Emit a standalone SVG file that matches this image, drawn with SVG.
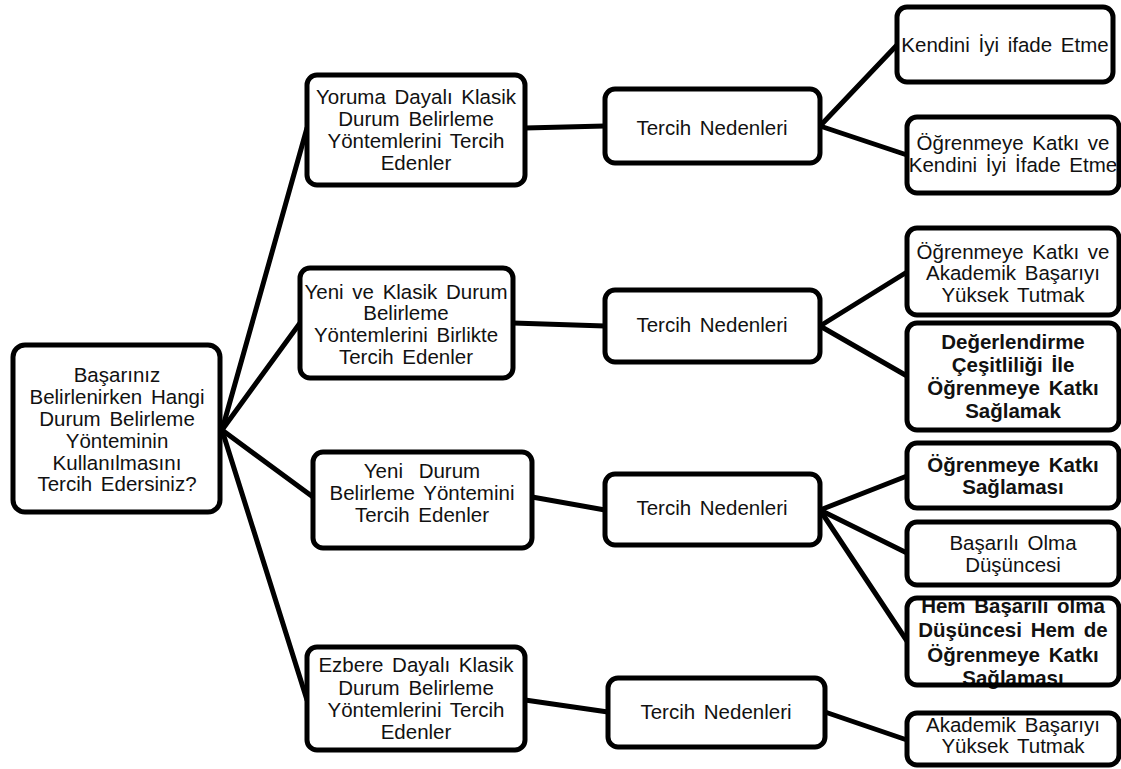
<svg xmlns="http://www.w3.org/2000/svg" width="1121" height="769" viewBox="0 0 1121 769">
<style>
.box{fill:#fff;stroke:#000;stroke-width:5}
.out{fill:none;stroke:#000;stroke-width:5}
.t{font-family:"Liberation Sans",Arial,sans-serif;font-size:20.5px;fill:#111;text-anchor:middle;word-spacing:3px}
.b{font-weight:bold}
.c{stroke:#000;stroke-width:5;fill:none;stroke-linecap:round}
</style>
<rect width="1121" height="769" fill="#fff"/>
<g id="connectors">
<line class="c" x1="222" y1="430" x2="307" y2="128"/>
<line class="c" x1="222" y1="430" x2="300" y2="323"/>
<line class="c" x1="222" y1="430" x2="313" y2="497"/>
<line class="c" x1="222" y1="430" x2="307" y2="700"/>
<line class="c" x1="525" y1="128" x2="605" y2="126"/>
<line class="c" x1="513" y1="323" x2="605" y2="326"/>
<line class="c" x1="532" y1="497" x2="605" y2="510"/>
<line class="c" x1="525" y1="700" x2="608" y2="712"/>
<line class="c" x1="820" y1="126" x2="897" y2="45"/>
<line class="c" x1="820" y1="126" x2="907" y2="155"/>
<line class="c" x1="820" y1="326" x2="907" y2="272"/>
<line class="c" x1="820" y1="326" x2="907" y2="376"/>
<line class="c" x1="820" y1="510" x2="907" y2="476"/>
<line class="c" x1="820" y1="510" x2="907" y2="553"/>
<line class="c" x1="820" y1="510" x2="907" y2="641"/>
<line class="c" x1="825" y1="712" x2="907" y2="740"/>
</g>
<g id="root">
<rect class="box" x="13" y="345" width="207" height="167" rx="12"/>
<text class="t" x="117" y="382">Başarınız</text>
<text class="t" x="117" y="404">Belirlenirken Hangi</text>
<text class="t" x="117" y="426">Durum Belirleme</text>
<text class="t" x="117" y="448">Yönteminin</text>
<text class="t" x="117" y="470">Kullanılmasını</text>
<text class="t" x="117" y="491">Tercih Edersiniz?</text>
</g>
<g id="yoruma">
<rect class="box" x="307" y="75" width="218" height="110" rx="10"/>
<text class="t" x="416" y="104">Yoruma Dayalı Klasik</text>
<text class="t" x="416" y="126">Durum Belirleme</text>
<text class="t" x="416" y="148">Yöntemlerini Tercih</text>
<text class="t" x="416" y="170">Edenler</text>
</g>
<g id="tercih1">
<rect class="box" x="605" y="89" width="215" height="74" rx="10"/>
<text class="t" x="712" y="135">Tercih Nedenleri</text>
</g>
<g id="kendini">
<rect class="box" x="897" y="7" width="216" height="75" rx="10"/>
<text class="t" x="1005" y="52">Kendini İyi ifade Etme</text>
</g>
<g id="ogrenme-kendini">
<rect class="box" x="907" y="117" width="212" height="76" rx="10"/>
<text class="t" x="1013" y="150">Öğrenmeye Katkı ve</text>
<text class="t" x="1013" y="172">Kendini İyi İfade Etme</text>
</g>
<g id="yeni-klasik">
<rect class="box" x="300" y="268" width="213" height="110" rx="10"/>
<text class="t" x="406" y="299">Yeni ve Klasik Durum</text>
<text class="t" x="406" y="320">Belirleme</text>
<text class="t" x="406" y="342">Yöntemlerini Birlikte</text>
<text class="t" x="406" y="364">Tercih Edenler</text>
</g>
<g id="tercih2">
<rect class="box" x="605" y="290" width="215" height="72" rx="10"/>
<text class="t" x="712" y="332">Tercih Nedenleri</text>
</g>
<g id="ogrenme-akademik">
<rect class="box" x="907" y="228" width="212" height="87" rx="10"/>
<text class="t" x="1013" y="259">Öğrenmeye Katkı ve</text>
<text class="t" x="1013" y="280">Akademik Başarıyı</text>
<text class="t" x="1013" y="302">Yüksek Tutmak</text>
</g>
<g id="degerlendirme">
<rect class="box" x="907" y="323" width="212" height="107" rx="10"/>
<text class="t b" x="1013" y="349">Değerlendirme</text>
<text class="t b" x="1013" y="372">Çeşitliliği İle</text>
<text class="t b" x="1013" y="395">Öğrenmeye Katkı</text>
<text class="t b" x="1013" y="418">Sağlamak</text>
</g>
<g id="yeni-durum">
<rect class="box" x="313" y="452" width="219" height="96" rx="10"/>
<text class="t" x="422" y="478" style="word-spacing:10px">Yeni Durum</text>
<text class="t" x="422" y="500">Belirleme Yöntemini</text>
<text class="t" x="422" y="522">Tercih Edenler</text>
</g>
<g id="tercih3">
<rect class="box" x="605" y="474" width="215" height="71" rx="10"/>
<text class="t" x="712" y="515">Tercih Nedenleri</text>
</g>
<g id="ogrenme-katki">
<rect class="box" x="907" y="443" width="212" height="65" rx="10"/>
<text class="t b" x="1013" y="472">Öğrenmeye Katkı</text>
<text class="t b" x="1013" y="494">Sağlaması</text>
</g>
<g id="basarili">
<rect class="box" x="907" y="522" width="212" height="63" rx="10"/>
<text class="t" x="1013" y="550">Başarılı Olma</text>
<text class="t" x="1013" y="572">Düşüncesi</text>
</g>
<g id="hem">
<rect x="907" y="598" width="212" height="87" rx="10" fill="#fff"/>
<text class="t b" x="1013" y="613">Hem Başarılı olma</text>
<text class="t b" x="1013" y="637">Düşüncesi Hem de</text>
<text class="t b" x="1013" y="662">Öğrenmeye Katkı</text>
<text class="t b" x="1013" y="685">Sağlaması</text>
<rect class="out" x="907" y="598" width="212" height="87" rx="10"/>
</g>
<g id="ezbere">
<rect class="box" x="307" y="647" width="218" height="103" rx="10"/>
<text class="t" x="416" y="672">Ezbere Dayalı Klasik</text>
<text class="t" x="416" y="695">Durum Belirleme</text>
<text class="t" x="416" y="717">Yöntemlerini Tercih</text>
<text class="t" x="416" y="739">Edenler</text>
</g>
<g id="tercih4">
<rect class="box" x="608" y="678" width="217" height="69" rx="10"/>
<text class="t" x="716" y="719">Tercih Nedenleri</text>
</g>
<g id="akademik">
<rect class="box" x="907" y="713" width="212" height="52" rx="10"/>
<text class="t" x="1013" y="732">Akademik Başarıyı</text>
<text class="t" x="1013" y="753">Yüksek Tutmak</text>
</g>
</svg>
